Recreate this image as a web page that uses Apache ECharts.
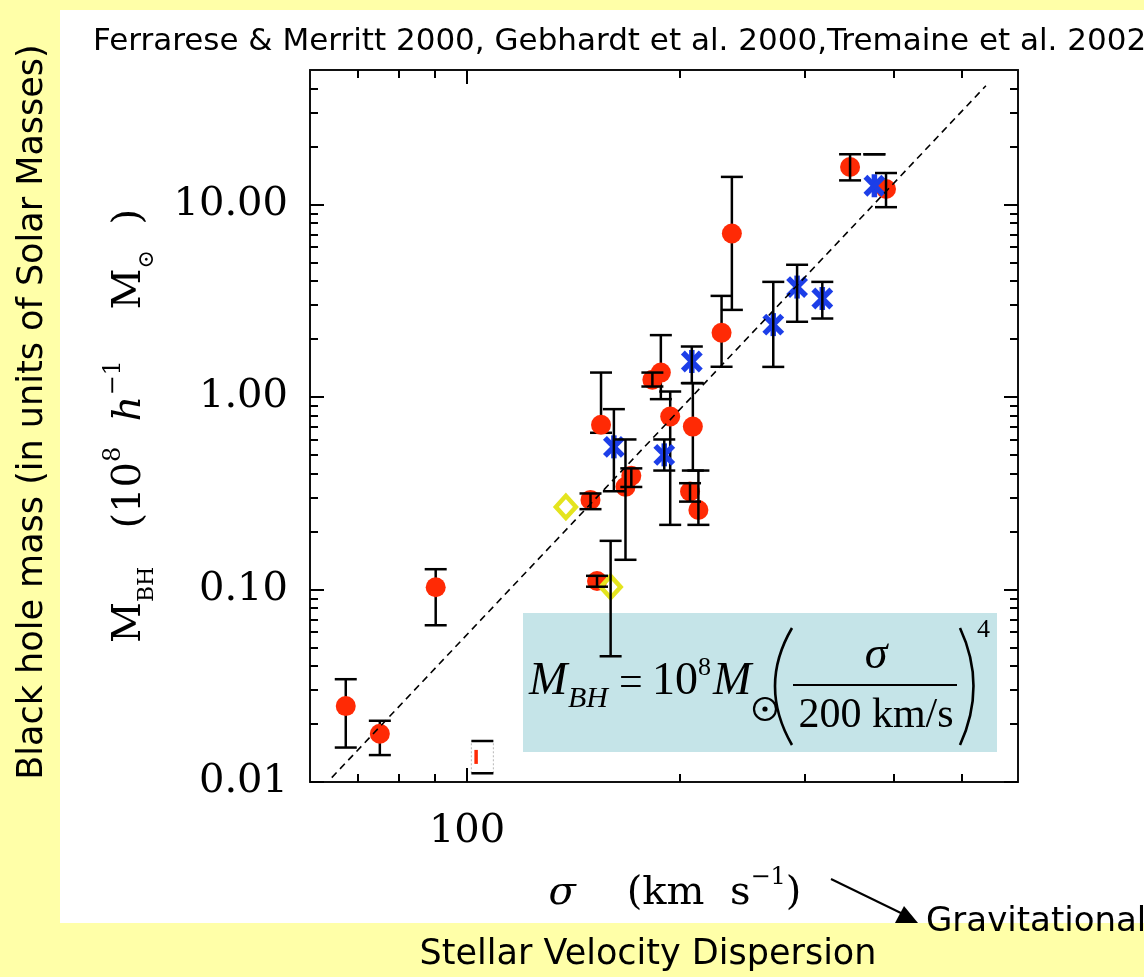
<!DOCTYPE html>
<html>
<head>
<meta charset="utf-8">
<script src="https://cdn.jsdelivr.net/npm/echarts@6/dist/echarts.min.js"></script>
<style>
  html, body { margin: 0; padding: 0; background: #ffffa8; }
  #panel { position: absolute; left: 60px; top: 10px; width: 1084px; height: 913px; background: #ffffff; }
  #chart { position: absolute; left: 0; top: 0; width: 1144px; height: 977px; }
</style>
</head>
<body>
<div id="panel"></div>
<div id="chart"></div>
<script>
// Velocity dispersion sigma (km/s) and black hole mass (1e8 h^-1 Msun), with error limits
const redSigma = [67.4, 75.3, 90.3, 149.4, 152.6, 154.6, 170.6, 167.4, 182.7, 187.8, 193.6, 208.4, 206.5, 212.2, 228.8, 236.6, 347.5, 390.6];
const redMass  = [0.0248, 0.0178, 0.1028, 0.292, 0.1107, 0.717, 0.3895, 0.3414, 1.229, 1.34, 0.792, 0.702, 0.323, 0.259, 2.157, 7.075, 15.67, 12.04];
const redLow   = [0.0151, 0.0138, 0.0652, 0.2615, 0.1034, 0.652, 0.341, 0.1427, 1.134, 0.975, 0.2167, 0.415, 0.2862, 0.2167, 1.436, 2.836, 13.35, 9.69];
const redHigh  = [0.0342, 0.0208, 0.1275, 0.3155, 0.1178, 1.34, 0.426, 0.602, 1.34, 2.097, 1.068, 1.181, 0.3567, 0.415, 3.353, 13.92, 18.25, 14.58];
// error bars drawn over the marker (true) or underneath it (false)
const redBarOnTop = [false, false, false, true, true, false, true, true, true, false, false, false, true, true, false, false, true, true];

const blueSigma = [161.2, 189.9, 207.7, 270.7, 292.5, 317.5, 376.1];
const blueMass  = [0.551, 0.5007, 1.53, 2.378, 3.726, 3.251, 12.52];
const blueLow   = [0.324, 0.415, 1.181, 1.434, 2.46, 2.558, 18.25];
const blueHigh  = [0.865, 0.602, 1.83, 3.965, 4.865, 3.965, 18.25];

const yellowSigma = [137.9, 159.5];
const yellowMass  = [0.2687, 0.1031];
const yellowLow   = [null, 0.045];
const yellowHigh  = [null, 0.179];

const openSigma = [105.1];
const openMass  = [0.0135];
const openLow   = [0.0111];
const openHigh  = [0.01633];

// M-sigma relation line
const fitSigma = [64.4, 540.5];
const fitMass  = [0.01054, 41.4];

// axis ticks
const xMajorTicks = [100];
const xMinorTicks = [70, 80, 90, 200, 300, 400, 500];
const yMajorTicks = [0.01, 0.1, 1, 10];
const yMinorTicks = [0.02, 0.03, 0.04, 0.05, 0.06, 0.07, 0.08, 0.09,
                     0.2, 0.3, 0.4, 0.5, 0.6, 0.7, 0.8, 0.9,
                     2, 3, 4, 5, 6, 7, 8, 9, 20, 30, 40];

const X_MIN = 60, X_MAX = 600, Y_MIN = 0.01, Y_MAX = 50;
const SERIF = '"DejaVu Serif", serif';
const HAND = '"DejaVu Sans", sans-serif';
const TIMES = '"Liberation Serif", "Times New Roman", serif';

function zipBars(xs, lo, hi, keep) {
  const out = [];
  xs.forEach((x, i) => {
    if (lo[i] == null || hi[i] == null) return;
    if (keep && !keep(i)) return;
    out.push([x, lo[i], hi[i]]);
  });
  return out;
}

function errRender(params, api) {
  const x = api.value(0), lo = api.value(1), hi = api.value(2);
  const a = api.coord([x, lo]), b = api.coord([x, hi]);
  const cw = 11, st = { stroke: '#000', lineWidth: 2.5 };
  return {
    type: 'group',
    children: [
      { type: 'line', shape: { x1: a[0], y1: a[1], x2: b[0], y2: b[1] }, style: st },
      { type: 'line', shape: { x1: a[0] - cw, y1: a[1], x2: a[0] + cw, y2: a[1] }, style: st },
      { type: 'line', shape: { x1: b[0] - cw, y1: b[1], x2: b[0] + cw, y2: b[1] }, style: st }
    ]
  };
}

function starRender(params, api) {
  const c = api.coord([api.value(0), api.value(1)]);
  const r = 11.5, d = r * 0.78, st = { stroke: '#1c3ee8', lineWidth: 5.5 };
  return {
    type: 'group',
    children: [
      { type: 'line', shape: { x1: c[0], y1: c[1] - r, x2: c[0], y2: c[1] + r }, style: st },
      { type: 'line', shape: { x1: c[0] - d, y1: c[1] - d, x2: c[0] + d, y2: c[1] + d }, style: st },
      { type: 'line', shape: { x1: c[0] - d, y1: c[1] + d, x2: c[0] + d, y2: c[1] - d }, style: st }
    ]
  };
}

function openRender(params, api) {
  const x = api.value(0), m = api.value(1), lo = api.value(2), hi = api.value(3);
  const a = api.coord([x, lo]), b = api.coord([x, hi]), c = api.coord([x, m]);
  const cw = 11, st = { stroke: '#000', lineWidth: 2.5 };
  const side = { stroke: '#b8b8b8', lineWidth: 1, lineDash: [2, 2] };
  return {
    type: 'group',
    children: [
      { type: 'line', shape: { x1: a[0] - cw, y1: a[1], x2: a[0] - cw, y2: b[1] }, style: side },
      { type: 'line', shape: { x1: a[0] + cw, y1: a[1], x2: a[0] + cw, y2: b[1] }, style: side },
      { type: 'rect', shape: { x: c[0] - 8, y: c[1] - 7, width: 3.5, height: 14 }, style: { fill: '#ff2a05' } },
      { type: 'line', shape: { x1: a[0] - cw, y1: a[1], x2: a[0] + cw, y2: a[1] }, style: st },
      { type: 'line', shape: { x1: b[0] - cw, y1: b[1], x2: b[0] + cw, y2: b[1] }, style: st }
    ]
  };
}

function logAxis(kind, pos, opts) {
  const base = {
    type: 'log', logBase: 10, position: pos, offset: 0,
    min: kind === 'x' ? X_MIN : Y_MIN, max: kind === 'x' ? X_MAX : Y_MAX,
    splitLine: { show: false },
    axisLine: { show: false },
    axisLabel: { show: false },
    axisTick: { show: false }
  };
  return Object.assign(base, opts);
}

const tickLine = { color: '#000', width: 2 };
const frameLine = { show: true, lineStyle: { color: '#111', width: 2 } };

const xAxes = [
  logAxis('x', 'bottom', {
    axisLine: frameLine,
    axisTick: { show: true, inside: true, length: 14, lineStyle: tickLine, customValues: xMajorTicks },
    axisLabel: {
      show: true, customValues: xMajorTicks, margin: 30,
      formatter: v => String(Math.round(v)),
      fontFamily: SERIF, fontSize: 40, color: '#000'
    },
    name: '{it|σ}    (km  s{sup|−1})',
    nameLocation: 'middle', nameGap: 84,
    nameTextStyle: {
      fontFamily: SERIF, fontSize: 40, color: '#000', lineHeight: 56, padding: [0, 0, 0, 22],
      rich: {
        it: { fontFamily: SERIF, fontSize: 40, fontStyle: 'italic', lineHeight: 56 },
        sup: { fontFamily: SERIF, fontSize: 24, verticalAlign: 'top', lineHeight: 24 }
      }
    }
  }),
  logAxis('x', 'bottom', {
    axisTick: { show: true, inside: true, length: 8, lineStyle: tickLine, customValues: xMinorTicks }
  }),
  logAxis('x', 'top', {
    axisLine: frameLine,
    axisTick: { show: true, inside: true, length: 14, lineStyle: tickLine, customValues: xMajorTicks }
  }),
  logAxis('x', 'top', {
    axisTick: { show: true, inside: true, length: 8, lineStyle: tickLine, customValues: xMinorTicks }
  })
];

const yAxes = [
  logAxis('y', 'left', {
    axisLine: frameLine,
    axisTick: { show: true, inside: true, length: 14, lineStyle: tickLine, customValues: yMajorTicks },
    axisLabel: {
      show: true, customValues: yMajorTicks, margin: 22,
      formatter: v => Number(v).toFixed(2),
      fontFamily: SERIF, fontSize: 40, color: '#000'
    },
    name: 'M{sub|BH}   (10{sup|8}  {it|h}{sup|−1}    M{sub|⊙}  )',
    nameLocation: 'middle', nameRotate: 90, nameGap: 152,
    nameTextStyle: {
      fontFamily: SERIF, fontSize: 40, color: '#000', lineHeight: 56,
      rich: {
        sub: { fontFamily: SERIF, fontSize: 22, verticalAlign: 'bottom', lineHeight: 22 },
        sup: { fontFamily: SERIF, fontSize: 24, verticalAlign: 'top', lineHeight: 24 },
        it: { fontFamily: SERIF, fontSize: 40, fontStyle: 'italic', lineHeight: 56 }
      }
    }
  }),
  logAxis('y', 'left', {
    axisTick: { show: true, inside: true, length: 8, lineStyle: tickLine, customValues: yMinorTicks }
  }),
  logAxis('y', 'right', {
    axisLine: frameLine,
    axisTick: { show: true, inside: true, length: 14, lineStyle: tickLine, customValues: yMajorTicks }
  }),
  logAxis('y', 'right', {
    axisTick: { show: true, inside: true, length: 8, lineStyle: tickLine, customValues: yMinorTicks }
  })
];

const formula = [
  { type: 'rect', shape: { x: 523, y: 613, width: 474, height: 139 }, style: { fill: '#c5e4e8' } },
  { type: 'text', style: { text: 'M', x: 529, y: 682, font: 'italic 46px ' + TIMES, fill: '#000', align: 'left', verticalAlign: 'middle' } },
  { type: 'text', style: { text: 'BH', x: 568, y: 699, font: 'italic 30px ' + TIMES, fill: '#000', align: 'left', verticalAlign: 'middle' } },
  { type: 'text', style: { text: '=', x: 619, y: 684, font: '42px ' + TIMES, fill: '#000', align: 'left', verticalAlign: 'middle' } },
  { type: 'text', style: { text: '10', x: 652, y: 682, font: '46px ' + TIMES, fill: '#000', align: 'left', verticalAlign: 'middle' } },
  { type: 'text', style: { text: '8', x: 698, y: 668, font: '26px ' + TIMES, fill: '#000', align: 'left', verticalAlign: 'middle' } },
  { type: 'text', style: { text: 'M', x: 713, y: 682, font: 'italic 46px ' + TIMES, fill: '#000', align: 'left', verticalAlign: 'middle' } },
  { type: 'circle', shape: { cx: 765, cy: 709, r: 11 }, style: { fill: 'none', stroke: '#000', lineWidth: 2.2 } },
  { type: 'circle', shape: { cx: 765, cy: 709, r: 2.6 }, style: { fill: '#000' } },
  { type: 'bezierCurve', shape: { x1: 792, y1: 628, x2: 792, y2: 745, cpx1: 758, cpy1: 686 }, style: { fill: 'none', stroke: '#000', lineWidth: 2.6 } },
  { type: 'bezierCurve', shape: { x1: 960, y1: 628, x2: 960, y2: 745, cpx1: 987, cpy1: 686 }, style: { fill: 'none', stroke: '#000', lineWidth: 2.6 } },
  { type: 'text', style: { text: 'σ', x: 876, y: 656, font: 'italic 46px ' + TIMES, fill: '#000', align: 'center', verticalAlign: 'middle' } },
  { type: 'line', shape: { x1: 793, y1: 685, x2: 957, y2: 685 }, style: { stroke: '#000', lineWidth: 2 } },
  { type: 'text', style: { text: '200 km/s', x: 876, y: 716, font: '42px ' + TIMES, fill: '#000', align: 'center', verticalAlign: 'middle' } },
  { type: 'text', style: { text: '4', x: 977, y: 630, font: '26px ' + TIMES, fill: '#000', align: 'left', verticalAlign: 'middle' } }
];

const annotations = [
  { type: 'text', style: { text: 'Ferrarese & Merritt 2000, Gebhardt et al. 2000,Tremaine et al. 2002', x: 93, y: 42, font: '31px ' + HAND, fill: '#000', align: 'left', verticalAlign: 'middle' } },
  { type: 'text', x: 33, y: 412, rotation: Math.PI / 2, style: { text: 'Black hole mass (in units of Solar Masses)', x: 0, y: 0, font: '35px ' + HAND, fill: '#000', align: 'center', verticalAlign: 'middle' } },
  { type: 'text', style: { text: 'Stellar Velocity Dispersion', x: 648, y: 955, font: '35px ' + HAND, fill: '#000', align: 'center', verticalAlign: 'middle' } },
  { type: 'text', style: { text: 'Gravitational', x: 926, y: 922, font: '34px ' + HAND, fill: '#000', align: 'left', verticalAlign: 'middle' } },
  { type: 'line', shape: { x1: 831, y1: 879, x2: 905, y2: 915 }, style: { stroke: '#000', lineWidth: 2 } },
  { type: 'polygon', shape: { points: [[895, 923], [918, 923], [904, 906]] }, style: { fill: '#000' } }
];

const chart = echarts.init(document.getElementById('chart'), null, { renderer: 'canvas' });
chart.setOption({
  animation: false,
  backgroundColor: 'transparent',
  grid: { left: 310, top: 70, width: 708, height: 712, containLabel: false },
  xAxis: xAxes,
  yAxis: yAxes,
  graphic: [
    { type: 'group', z: 100, children: formula },
    { type: 'group', z: 100, children: annotations }
  ],
  series: [
    {
      type: 'custom', name: 'bars-under', z: 2, renderItem: errRender,
      encode: { x: 0, y: [1, 2] },
      data: zipBars(redSigma, redLow, redHigh, i => !redBarOnTop[i])
    },
    {
      type: 'custom', name: 'open', z: 2, renderItem: openRender,
      encode: { x: 0, y: [1, 2, 3] },
      data: openSigma.map((s, i) => [s, openMass[i], openLow[i], openHigh[i]])
    },
    {
      type: 'scatter', name: 'red', z: 3, symbol: 'circle', symbolSize: 20,
      itemStyle: { color: '#ff2a05', opacity: 1 },
      data: redSigma.map((s, i) => [s, redMass[i]])
    },
    {
      type: 'custom', name: 'blue', z: 4, renderItem: starRender,
      encode: { x: 0, y: 1 },
      data: blueSigma.map((s, i) => [s, blueMass[i]])
    },
    {
      type: 'scatter', name: 'yellow', z: 4, symbol: 'diamond', symbolSize: [20, 22],
      itemStyle: { color: 'rgba(0,0,0,0)', borderColor: '#e4e41e', borderWidth: 4.5, opacity: 1 },
      data: yellowSigma.map((s, i) => [s, yellowMass[i]])
    },
    {
      type: 'custom', name: 'bars-over', z: 5, renderItem: errRender,
      encode: { x: 0, y: [1, 2] },
      data: zipBars(redSigma, redLow, redHigh, i => redBarOnTop[i])
        .concat(zipBars(blueSigma, blueLow, blueHigh))
        .concat(zipBars(yellowSigma, yellowLow, yellowHigh))
    },
    {
      type: 'line', name: 'fit', z: 6, symbol: 'none', silent: true,
      lineStyle: { color: '#000', width: 1.6, type: [7, 5] },
      data: fitSigma.map((s, i) => [s, fitMass[i]])
    }
  ]
});
</script>
</body>
</html>
